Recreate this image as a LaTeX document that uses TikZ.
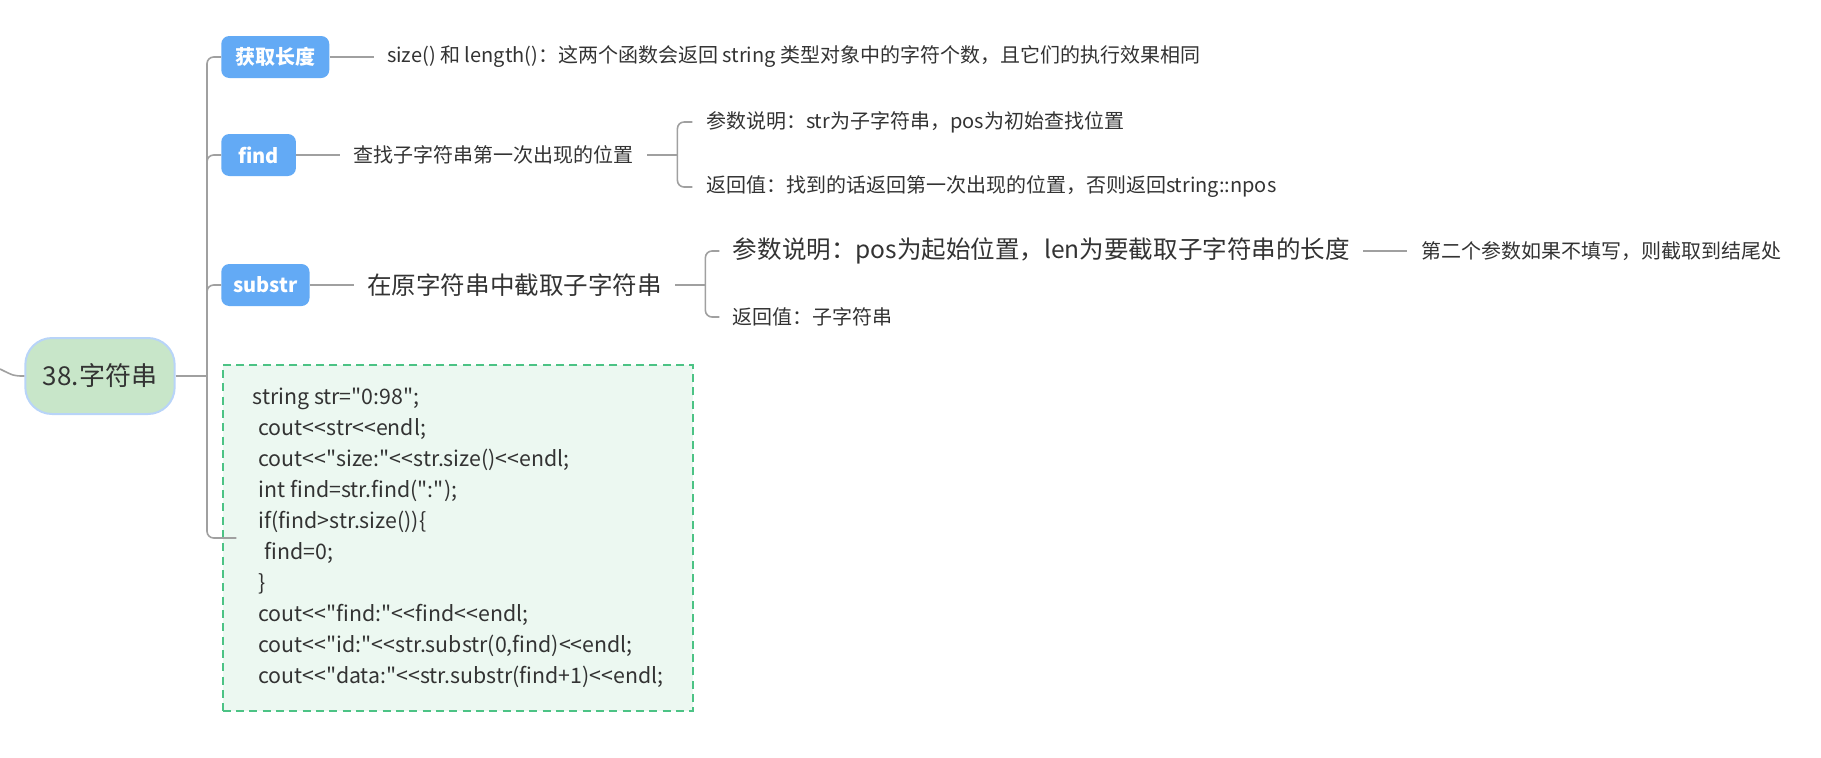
\documentclass[tikz,border=0pt]{standalone}
\usepackage{fontspec}
\setmainfont{Noto Sans CJK SC}[Ligatures=TeXOff]
\usetikzlibrary{positioning}
\definecolor{Ink}{HTML}{333333}
\definecolor{Line}{HTML}{A0A0A0}
\definecolor{Branch}{HTML}{63AAF5}
\definecolor{RootFill}{HTML}{C8E6C9}
\definecolor{RootEdge}{HTML}{B8D4F8}
\definecolor{CodeFill}{HTML}{ECF8F1}
\definecolor{CodeEdge}{HTML}{4CC385}

\begin{document}
\begin{tikzpicture}[x=0.75pt,y=-0.75pt,font=\fontsize{15pt}{18pt}\selectfont,text=Ink,
 root/.style={draw=RootEdge,fill=RootFill,line width=1.5pt,rounded corners=20pt,minimum width=112pt,minimum height=57pt,font=\fontsize{19.5pt}{23pt}\selectfont},
 branch/.style={fill=Branch,text=white,rounded corners=6pt,anchor=west,minimum height=31.5pt,inner xsep=9pt,font=\fontsize{15pt}{18pt}\selectfont\bfseries},
 topic/.style={anchor=west,inner xsep=10pt,inner ysep=3pt},
 big/.style={font=\fontsize{18.4pt}{22pt}\selectfont},
 codebox/.style={draw=CodeEdge,fill=CodeFill,line width=1.5pt,dash pattern=on 6pt off 4pt,minimum width=353pt,minimum height=260pt,align=left,inner sep=0pt,font=\fontsize{16pt}{23.25pt}\selectfont},
 link/.style={draw=Line,line width=1.2pt},
 fork/.style={link,rounded corners=5pt}]
 \useasboundingbox (0,0) rectangle (1821,757);

 \node[root] (root) at (100,376) {38.字符串};
 \coordinate (up) at (0,369);
 \coordinate (trunk) at (207,376);

 \node[branch,minimum width=81pt] (len) at (221,57) {获取长度};
 \node[branch,minimum width=56pt] (find) at (221,155) {find};
 \node[branch,minimum width=64.5pt] (sub) at (221,285) {substr};
 \node[codebox] (code) at (458,538) {string str="0:98";\\
  \hspace*{4.5pt}cout<<str<<endl;\\
  \hspace*{4.5pt}cout<<"size:"<<str.size()<<endl;\\
  \hspace*{4.5pt}int find=str.find(":");\\
  \hspace*{4.5pt}if(find>str.size())\{\\
  \hspace*{9pt}find=0;\\
  \hspace*{4.5pt}\}\\
  \hspace*{4.5pt}cout<<"find:"<<find<<endl;\\
  \hspace*{4.5pt}cout<<"id:"<<str.substr(0,find)<<endl;\\
  \hspace*{4.5pt}cout<<"data:"<<str.substr(find+1)<<endl;};

 % length
 \node[topic,right=33pt of len] (lenTxt) {size() 和 length()：这两个函数会返回 string 类型对象中的字符个数，且它们的执行效果相同};

 % find
 \node[topic,right=33pt of find] (findTxt) {查找子字符串第一次出现的位置};
 \coordinate[right=22.5pt of findTxt] (findFork);
 \node[topic] (findArg) at ([shift={(15,-33)}]findFork) {参数说明：str为子字符串，pos为初始查找位置};
 \node[topic] (findRet) at ([shift={(15,32)}]findFork) {返回值：找到的话返回第一次出现的位置，否则返回string::npos};

 % substr
 \node[topic,big,right=33pt of sub] (subTxt) {在原字符串中截取子字符串};
 \coordinate[right=22.5pt of subTxt] (subFork);
 \node[topic,big] (subArg) at ([shift={(14,-34)}]subFork) {参数说明：pos为起始位置，len为要截取子字符串的长度};
 \node[topic,right=33pt of subArg] (subNote) {第二个参数如果不填写，则截取到结尾处};
 \node[topic] (subRet) at ([shift={(14,32)}]subFork) {返回值：子字符串};

 \draw[link] (up) .. controls (14,376) .. (root.west);
 \draw[link] (root.east) -- (trunk);
 \draw[fork] (trunk) |- (len.west);
 \draw[fork] (trunk) |- (find.west);
 \draw[fork] (trunk) |- (sub.west);
 \draw[fork] (trunk) |- ([xshift=11pt]code.west);
 \draw[link] (len) -- (lenTxt);
 \draw[link] (find) -- (findTxt);
 \draw[link] (findTxt) -- (findFork);
 \draw[fork] (findFork) |- (findArg.west);
 \draw[fork] (findFork) |- (findRet.west);
 \draw[link] (sub) -- (subTxt);
 \draw[link] (subTxt) -- (subFork);
 \draw[fork] (subFork) |- (subArg.west);
 \draw[fork] (subFork) |- (subRet.west);
 \draw[link] (subArg) -- (subNote);
\end{tikzpicture}
\end{document}
